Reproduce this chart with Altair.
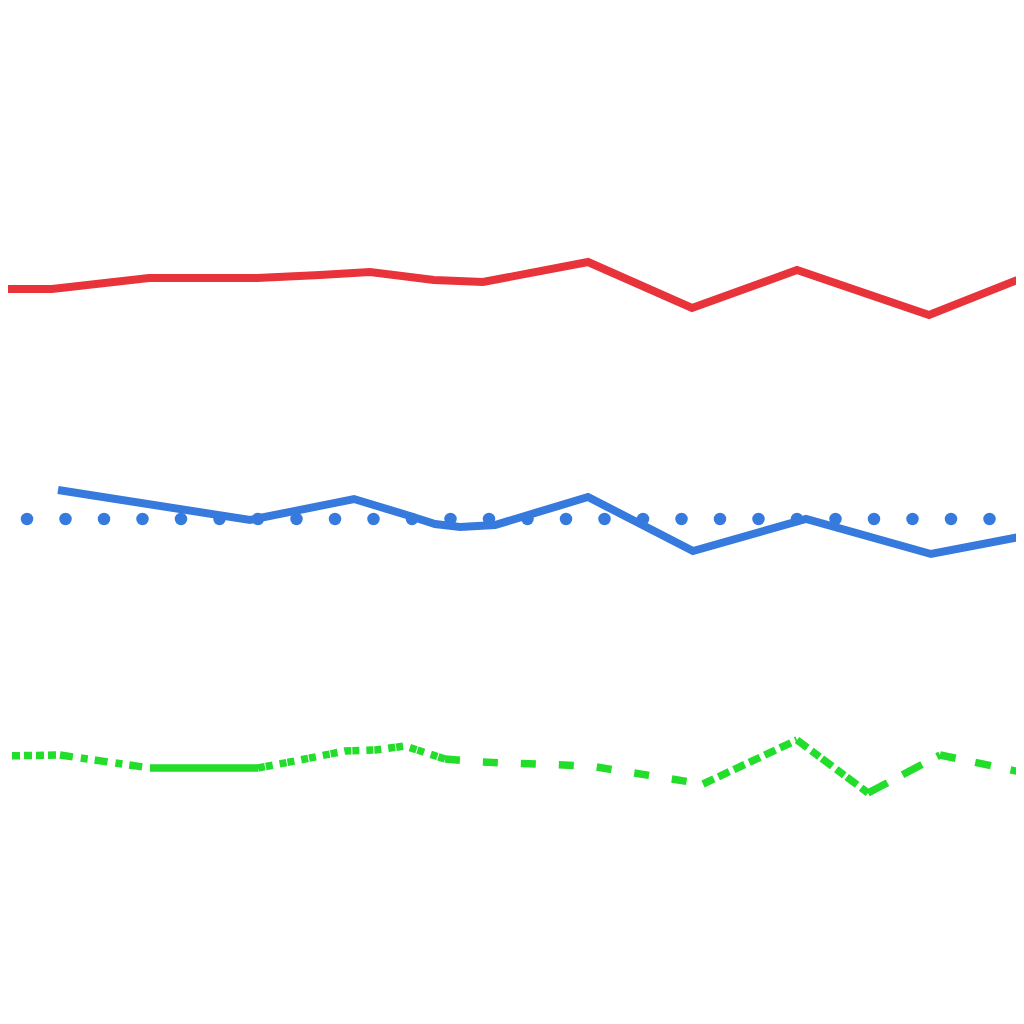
import altair as alt
import pandas as pd

# ---- data (x in generic units, y values) ----
red_x = [0.0, 5.2, 14.9, 25.7, 32.0, 37.0, 43.4, 48.3, 58.8, 69.2, 79.7, 92.9, 104.0]
red_y = [73.5, 73.5, 74.6, 74.6, 74.9, 75.2, 74.4, 74.2, 76.2, 71.6, 75.4, 70.9, 75.3]

blue_x = [5.8, 25.0, 35.4, 41.0, 43.5, 46.0, 49.5, 58.8, 69.3, 80.6, 93.1, 104.0]
blue_y = [53.4, 50.4, 52.5, 50.8, 50.0, 49.7, 49.9, 52.7, 47.3, 50.5, 47.0, 49.1]

base_x = [2.7, 104.0]
base_y = [50.5, 50.5]

green_seg = ["s0", "s0", "s1", "s1", "s2", "s2",
             "s3", "s3", "s3", "s3", "s3", "s3",
             "s4", "s4", "s4", "s4", "s5", "s5", "s6", "s6", "s7", "s7", "s8", "s8"]
green_x = [0.0, 6.0, 6.0, 15.0, 15.0, 25.8,
           25.8, 30.0, 34.5, 37.5, 40.5, 44.5,
           44.5, 48.0, 59.0, 70.3, 70.3, 79.7, 79.7, 86.8, 86.8, 94.0, 94.0, 104.0]
green_y = [26.8, 26.9, 26.9, 25.6, 25.6, 25.6,
           25.6, 26.4, 27.3, 27.4, 27.8, 26.5,
           26.5, 26.2, 25.8, 24.0, 24.0, 28.4, 28.4, 23.1, 23.1, 26.9, 26.9, 24.8]

seg_names = ["s0", "s1", "s2", "s3", "s4", "s5", "s6", "s7", "s8"]
seg_dash = [[8, 4], [13, 8, 7, 7], [1, 0], [7, 1, 7, 7], [15, 23],
            [12, 5], [13, 5, 10, 3], [22, 17], [16, 20]]

red_df = pd.DataFrame({"x": red_x, "y": red_y})
blue_df = pd.DataFrame({"x": blue_x, "y": blue_y})
base_df = pd.DataFrame({"x": base_x, "y": base_y})
green_df = pd.DataFrame({"x": green_x, "y": green_y, "seg": green_seg})

xs = alt.Scale(domain=[0.8, 101.6], nice=False, zero=False)
ys = alt.Scale(domain=[1.6, 101.6], nice=False, zero=False)

X = alt.X("x:Q", scale=xs, axis=None)
Y = alt.Y("y:Q", scale=ys, axis=None)

red = alt.Chart(red_df).mark_line(color="#E8333B", strokeWidth=8, clip=True).encode(x=X, y=Y)
blue = alt.Chart(blue_df).mark_line(color="#377ADD", strokeWidth=8, clip=True).encode(x=X, y=Y)
base = alt.Chart(base_df).mark_line(color="#377ADD", strokeWidth=12.5, strokeCap="round",
                                    strokeDash=[0, 38.5], clip=True).encode(x=X, y=Y)
green = alt.Chart(green_df).mark_line(color="#22DD2A", strokeWidth=7.5, clip=True).encode(
    x=X, y=Y,
    strokeDash=alt.StrokeDash("seg:N", scale=alt.Scale(domain=seg_names, range=seg_dash), legend=None),
)

chart = alt.layer(red, base, blue, green).properties(
    width=1008, height=1000, autosize=alt.AutoSizeParams(type="none"), padding=0,
    background="white",
).configure_view(stroke=None)

chart.save("out.html", embed_options={"renderer": "svg", "actions": False})
